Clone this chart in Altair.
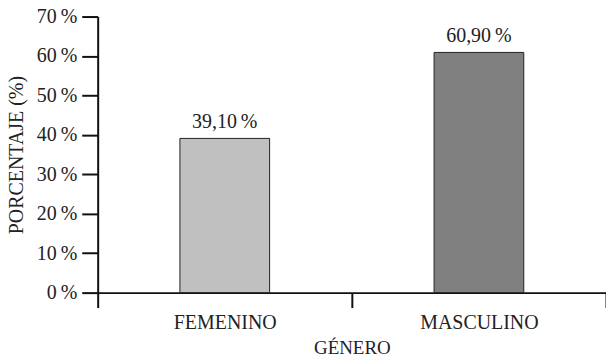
import altair as alt
import pandas as pd

# Share of respondents by gender
generos = ["FEMENINO", "MASCULINO"]
porcentajes = [39.1, 60.9]
colores = ["#c0c0c0", "#808080"]
marcas_y = [0, 10, 20, 30, 40, 50, 60, 70]

etiquetas = [f"{v:.2f}".replace(".", ",") + "\u2009%" for v in porcentajes]

df = pd.DataFrame({
    "genero": generos,
    "porcentaje": porcentajes,
    "etiqueta": etiquetas,
    "color": colores,
})

FONT = "Liberation Serif"

x = alt.X(
    "genero:N",
    sort=generos,
    title="GÉNERO",
    scale=alt.Scale(paddingInner=0, paddingOuter=0),
    axis=alt.Axis(
        labelAngle=0,
        tickBand="extent",
        tickSize=15,
        tickWidth=2,
        tickColor="#111",
        domainWidth=2,
        domainColor="#111",
        labelFont=FONT,
        labelFontSize=20,
        labelColor="#222",
        labelPadding=5,
        titleFont=FONT,
        titleFontSize=19,
        titleFontWeight="normal",
        titleColor="#222",
        titlePadding=6,
    ),
)

y = alt.Y(
    "porcentaje:Q",
    title="PORCENTAJE (%)",
    scale=alt.Scale(domain=[0, 70], nice=False),
    axis=alt.Axis(
        values=marcas_y,
        tickCount=8,
        labelExpr="datum.value + '\u2009%'",
        labelOverlap=False,
        labelFlush=False,
        grid=False,
        tickSize=16,
        tickWidth=2,
        tickColor="#111",
        domainWidth=2,
        domainColor="#111",
        labelFont=FONT,
        labelFontSize=20,
        labelColor="#222",
        labelPadding=5,
        titleFont=FONT,
        titleFontSize=20,
        titleFontWeight="normal",
        titleColor="#222",
        titlePadding=10,
    ),
)

bars = alt.Chart(df).mark_bar(width=90, stroke="#222", strokeWidth=1).encode(
    x=x,
    y=y,
    color=alt.Color("color:N", scale=None),
)

text = alt.Chart(df).mark_text(
    baseline="bottom", dy=-6, font=FONT, fontSize=20, color="#222"
).encode(
    x=x,
    y=y,
    text="etiqueta:N",
)

chart = (
    alt.layer(bars, text)
    .properties(
        width=510,
        height=277,
        autosize=alt.AutoSizeParams(type="none"),
        padding={"left": 98, "top": 16, "right": 0, "bottom": 66},
        background="white",
    )
    .configure_view(stroke=None)
    .configure_axis(labelOverlap=False)
)

chart.save("out.html", embed_options={"renderer": "svg", "actions": False})
